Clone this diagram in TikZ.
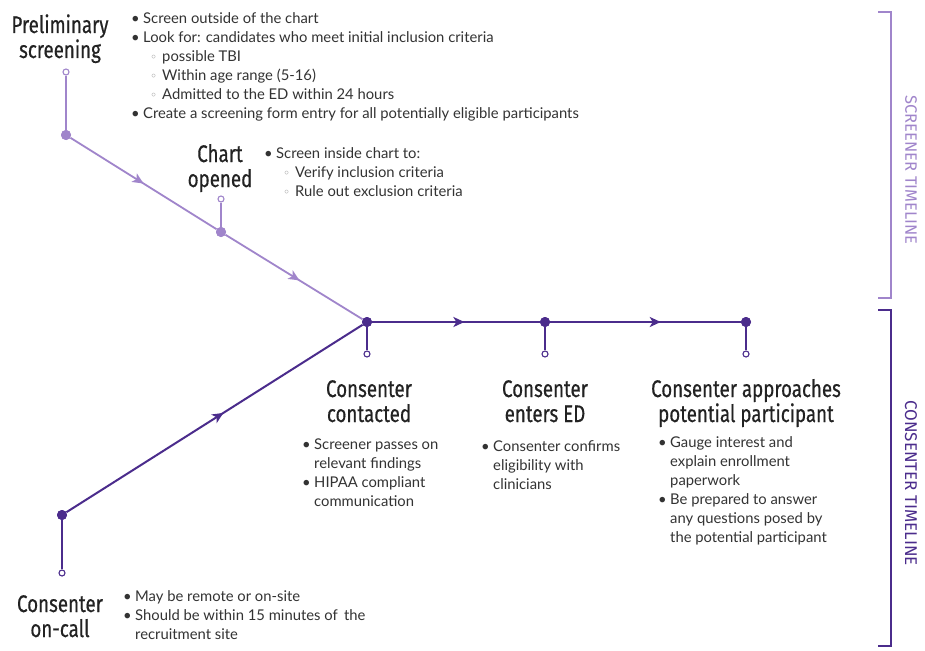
\documentclass[tikz,border=0pt]{standalone}
\usepackage{fontspec}
\setmainfont{Lato}
\newfontfamily\headfont[FakeStretch=0.78,FakeBold=0.5]{Fira Sans}
\newfontfamily\sidefont{Fira Sans}
\newfontfamily\symfont{DejaVu Sans}
\usetikzlibrary{arrows.meta,decorations.markings}
\definecolor{lightp}{HTML}{A085CB}
\definecolor{darkp}{HTML}{4B2C8C}
\definecolor{headc}{HTML}{222222}
\definecolor{bodyc}{HTML}{333333}
\definecolor{subc}{HTML}{8C8C8C}
\newcommand\bu{\makebox[12pt][l]{\textbullet}}
\newcommand\bc{\hspace*{12pt}}
\newcommand\subu{\hspace*{19pt}\makebox[12pt][l]{\textcolor{subc}{\symfont\fontsize{12}{12}\selectfont ◦}}}
\tikzset{
 lp/.style={color=lightp, line width=1.8pt},
 dp/.style={color=darkp, line width=2pt},
 dotl/.style={circle, fill=lightp, inner sep=0pt, minimum size=10pt},
 dotd/.style={circle, fill=darkp, inner sep=0pt, minimum size=10pt},
 openl/.style={circle, draw=lightp, fill=white, line width=1.1pt, inner sep=0pt, minimum size=6pt},
 opend/.style={circle, draw=darkp, fill=white, line width=1.1pt, inner sep=0pt, minimum size=6pt},
 head/.style={font=\headfont\fontsize{24}{25}\selectfont, text=headc, align=center, inner sep=0pt, anchor=base},
 body/.style={font=\fontsize{14.8}{19}\selectfont, text=bodyc, align=left, inner sep=0pt, anchor=base west},
 midarrow/.style={postaction={decorate}, decoration={markings, mark=at position #1 with {\arrow{Stealth[length=11pt,width=10pt,inset=3pt]}}}},
 brk/.style={line width=1.3pt},
}
\begin{document}
\begin{tikzpicture}[x=1pt,y=-1pt]
\useasboundingbox[fill=white] (0,0) rectangle (925,650);
% nodes of the timeline
\node[dotl] (p1) at (66,135) {};
\node[openl] (p1o) at (66,72) {};
\node[dotl] (c2) at (221,232) {};
\node[openl] (c2o) at (221,199) {};
\node[dotd] (j) at (367,322) {};
\node[opend] (jo) at (367,354) {};
\node[dotd] (e) at (545,322) {};
\node[opend] (eo) at (545,354) {};
\node[dotd] (a) at (746,322) {};
\node[opend] (ao) at (746,354) {};
\node[dotd] (k) at (62,515) {};
\node[opend] (ko) at (62,573) {};
% connectors
\draw[lp] (p1o) -- (p1);
\draw[lp] (c2o) -- (c2);
\draw[lp, midarrow=0.5] (p1) -- (c2);
\draw[lp, midarrow=0.54] (c2) -- (j);
\draw[dp, midarrow=0.53] (k) -- (j);
\draw[dp] (ko) -- (k);
\draw[dp] (j) -- (jo);
\draw[dp, midarrow=0.55] (j) -- (e);
\draw[dp, midarrow=0.58] (e) -- (a);
\draw[dp] (e) -- (eo);
\draw[dp] (a) -- (ao);
% redraw dots on top
\node[dotl] at (p1) {};
\node[dotl] at (c2) {};
\node[dotd] at (j) {};
\node[dotd] at (e) {};
\node[dotd] at (a) {};
\node[dotd] at (k) {};
% headings (base = last line)
\node[head] (hp) at (60,58) {Preliminary\\screening};
\node[head] (hc) at (220,187) {Chart\\opened};
\node[head] (hj) at (369,422) {Consenter\\contacted};
\node[head] (he) at (545,422) {Consenter\\enters ED};
\node[head] (ha) at (746,422) {Consenter approaches\\potential participant};
\node[head] (hk) at (60,637) {Consenter\\on-call};
% bullet texts (base = last line)
\node[body] (tp) at (131,118) {\bu Screen outside of the chart\\
\bu Look for: candidates who meet initial inclusion criteria\\
\subu possible TBI\\
\subu Within age range (5-16)\\
\subu Admitted to the ED within 24 hours\\
\bu Create a screening form entry for all potentially eligible participants};
\node[body] (tc) at (264,196) {\bu Screen inside chart to:\\
\subu Verify inclusion criteria\\
\subu Rule out exclusion criteria};
\node[body] (tj) at (302,506) {\bu Screener passes on\\
\bc relevant findings\\
\bu HIPAA compliant\\
\bc communication};
\node[body] (te) at (481,489) {\bu Consenter confirms\\
\bc eligibility with\\
\bc clinicians};
\node[body] (ta) at (658,542) {\bu Gauge interest and\\
\bc explain enrollment\\
\bc paperwork\\
\bu Be prepared to answer\\
\bc any questions posed by\\
\bc the potential participant};
\node[body] (tk) at (123,639) {\bu May be remote or on-site\\
\bu Should be within 15 minutes of\, the\\
\bc recruitment site};
% brackets
\coordinate (s1) at (878,12);
\coordinate (s2) at (891,12);
\coordinate (s3) at (891,298);
\coordinate (s4) at (878,298);
\draw[brk, lightp] (s1) -- (s2) -- (s3) -- (s4);
\coordinate (q1) at (878,310);
\coordinate (q2) at (891,310);
\coordinate (q3) at (891,646);
\coordinate (q4) at (878,646);
\draw[brk, darkp] (q1) -- (q2) -- (q3) -- (q4);
\node[rotate=-90, font=\sidefont\fontsize{16.5}{17}\selectfont, text=lightp, inner sep=0pt] (st) at (911,170) {SCREENER TIMELINE};
\node[rotate=-90, font=\sidefont\fontsize{17}{17}\selectfont, text=darkp, inner sep=0pt] (ct) at (911,483) {CONSENTER TIMELINE};
\end{tikzpicture}
\end{document}
